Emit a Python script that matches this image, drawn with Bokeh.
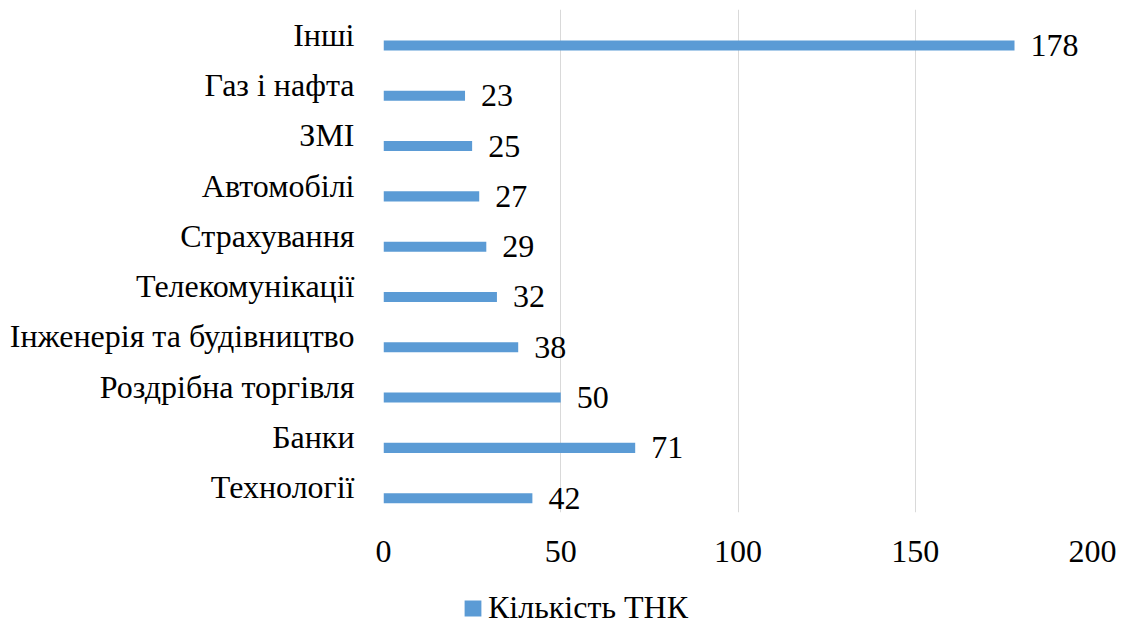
from bokeh.plotting import figure
from bokeh.layouts import column
from bokeh.models import ColumnDataSource, FactorRange, Range1d, FixedTicker, Legend, LegendItem
from bokeh.transform import dodge
from bokeh.core.properties import value
from bokeh.embed import file_html
from bokeh.resources import INLINE

# Data (bottom to top)
categories = ["Технології", "Банки", "Роздрібна торгівля", "Інженерія та будівництво",
              "Телекомунікації", "Страхування", "Автомобілі", "ЗМІ", "Газ і нафта", "Інші"]
counts = [42, 71, 50, 38, 32, 29, 27, 25, 23, 178]
series_name = "Кількість ТНК"
x_ticks = [0, 50, 100, 150, 200]

FONT = "Times New Roman"
BAR_COLOR = "#5B9BD5"

source = ColumnDataSource(dict(cat=categories, val=counts, lbl=[str(v) for v in counts]))

p = figure(width=1120, height=580, output_backend="svg", toolbar_location=None,
           y_range=FactorRange(factors=categories, range_padding=0),
           x_range=Range1d(0, 200),
           min_border_left=383, min_border_right=28, min_border_top=9, min_border_bottom=68)
p.outline_line_color = None
p.background_fill_color = "white"
p.border_fill_color = "white"

ydodge = dodge("cat", -0.215, range=p.y_range)
bars = p.hbar(y=ydodge, right="val", left=0, height=0.2, source=source,
              fill_color=BAR_COLOR, line_color=None)
p.text(x="val", y=ydodge, text="lbl", source=source, x_offset=16,
       text_font=value(FONT), text_font_size="32px", text_baseline="middle",
       text_align="left", text_color="#000000")

# axes
p.xaxis.ticker = FixedTicker(ticks=x_ticks)
p.xaxis.axis_line_color = None
p.xaxis.major_tick_line_color = None
p.xaxis.minor_tick_line_color = None
p.xaxis.major_tick_out = 0
p.xaxis.major_label_standoff = 28
p.xaxis.major_label_text_font = FONT
p.xaxis.major_label_text_font_size = "32px"
p.xaxis.major_label_text_color = "#000000"

p.yaxis.axis_line_color = None
p.yaxis.major_tick_line_color = None
p.yaxis.major_tick_out = 0
p.yaxis.major_label_standoff = 29
p.yaxis.major_label_text_font = FONT
p.yaxis.major_label_text_font_size = "32px"
p.yaxis.major_label_text_color = "#000000"

p.xgrid.grid_line_color = "#D9D9D9"
p.xgrid.grid_line_width = 1
p.ygrid.grid_line_color = None

# legend strip below the chart (its bar renderer is hidden; only its legend swatch shows)
lg = figure(width=1120, height=46, output_backend="svg", toolbar_location=None,
            x_range=Range1d(0, 200), y_range=FactorRange(factors=categories),
            x_axis_location=None, y_axis_location=None, min_border=0)
lg.outline_line_color = None
lg.xgrid.grid_line_color = None
lg.ygrid.grid_line_color = None
lg_bar = lg.hbar(y="cat", right="val", left=0, height=0.2, source=source,
                 fill_color=BAR_COLOR, line_color=None, visible=False)
legend = Legend(items=[LegendItem(label=series_name, renderers=[lg_bar])],
                location=(79, 0), orientation="horizontal",
                glyph_width=21, glyph_height=20, label_standoff=5,
                padding=0, margin=0, border_line_color=None, background_fill_alpha=0,
                label_text_font=FONT, label_text_font_size="32px", label_text_color="#000000")
lg.add_layout(legend, "center")

layout = column(p, lg, spacing=0)
open("out.html", "w").write(file_html(layout, INLINE))
